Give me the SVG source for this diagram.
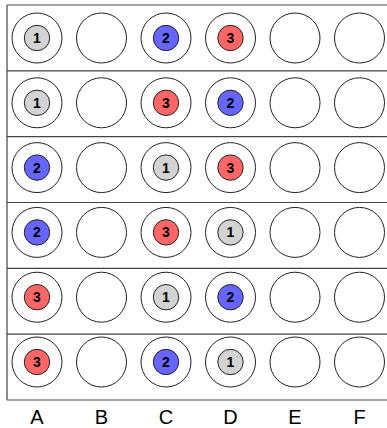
<svg xmlns="http://www.w3.org/2000/svg" width="387" height="428" viewBox="0 0 387 428">
<style>
.grid{fill:none;stroke:#444;stroke-width:1.2}
.well{fill:#fff;stroke:#222;stroke-width:1}
.t1{fill:#d3d3d3;stroke:#222;stroke-width:1}
.t2{fill:#6666ff;stroke:#222;stroke-width:1}
.t3{fill:#ff6666;stroke:#222;stroke-width:1}
.num{font-family:"Liberation Sans",Arial,sans-serif;font-weight:bold;font-size:14px;text-anchor:middle;fill:#000}
.lab{font-family:"Liberation Sans",Arial,sans-serif;font-size:20px;text-anchor:middle;fill:#000}
</style>
<rect width="387" height="428" fill="#fff"/>
<g id="grid">
<path class="grid" d="M7,5 H387 M7,70.8 H387 M7,136.7 H387 M7,202.5 H387 M7,268.3 H387 M7,334.2 H387 M7,400 H387 M7,5 V400"/>
</g>
<defs>
<g id="w"><circle class="well" r="25"/></g>
<g id="p1"><circle class="well" r="25"/><circle class="t1" r="12.7"/><text class="num" y="5">1</text></g>
<g id="p2"><circle class="well" r="25"/><circle class="t2" r="12.7"/><text class="num" y="5">2</text></g>
<g id="p3"><circle class="well" r="25"/><circle class="t3" r="12.7"/><text class="num" y="5">3</text></g>
</defs>
<g id="row1">
<g id="A1"><use href="#p1" x="37" y="38"/></g>
<g id="B1"><use href="#w" x="101.5" y="38"/></g>
<g id="C1"><use href="#p2" x="166" y="38"/></g>
<g id="D1"><use href="#p3" x="230.5" y="38"/></g>
<g id="E1"><use href="#w" x="295" y="38"/></g>
<g id="F1"><use href="#w" x="359.5" y="38"/></g>
</g>
<g id="row2">
<g id="A2"><use href="#p1" x="37" y="102.8"/></g>
<g id="B2"><use href="#w" x="101.5" y="102.8"/></g>
<g id="C2"><use href="#p3" x="166" y="102.8"/></g>
<g id="D2"><use href="#p2" x="230.5" y="102.8"/></g>
<g id="E2"><use href="#w" x="295" y="102.8"/></g>
<g id="F2"><use href="#w" x="359.5" y="102.8"/></g>
</g>
<g id="row3">
<g id="A3"><use href="#p2" x="37" y="167.6"/></g>
<g id="B3"><use href="#w" x="101.5" y="167.6"/></g>
<g id="C3"><use href="#p1" x="166" y="167.6"/></g>
<g id="D3"><use href="#p3" x="230.5" y="167.6"/></g>
<g id="E3"><use href="#w" x="295" y="167.6"/></g>
<g id="F3"><use href="#w" x="359.5" y="167.6"/></g>
</g>
<g id="row4">
<g id="A4"><use href="#p2" x="37" y="232.4"/></g>
<g id="B4"><use href="#w" x="101.5" y="232.4"/></g>
<g id="C4"><use href="#p3" x="166" y="232.4"/></g>
<g id="D4"><use href="#p1" x="230.5" y="232.4"/></g>
<g id="E4"><use href="#w" x="295" y="232.4"/></g>
<g id="F4"><use href="#w" x="359.5" y="232.4"/></g>
</g>
<g id="row5">
<g id="A5"><use href="#p3" x="37" y="297.2"/></g>
<g id="B5"><use href="#w" x="101.5" y="297.2"/></g>
<g id="C5"><use href="#p1" x="166" y="297.2"/></g>
<g id="D5"><use href="#p2" x="230.5" y="297.2"/></g>
<g id="E5"><use href="#w" x="295" y="297.2"/></g>
<g id="F5"><use href="#w" x="359.5" y="297.2"/></g>
</g>
<g id="row6">
<g id="A6"><use href="#p3" x="37" y="362"/></g>
<g id="B6"><use href="#w" x="101.5" y="362"/></g>
<g id="C6"><use href="#p2" x="166" y="362"/></g>
<g id="D6"><use href="#p1" x="230.5" y="362"/></g>
<g id="E6"><use href="#w" x="295" y="362"/></g>
<g id="F6"><use href="#w" x="359.5" y="362"/></g>
</g>
<g id="labels">
<text class="lab" x="37" y="424">A</text>
<text class="lab" x="101.5" y="424">B</text>
<text class="lab" x="166" y="424">C</text>
<text class="lab" x="230.5" y="424">D</text>
<text class="lab" x="295" y="424">E</text>
<text class="lab" x="359.5" y="424">F</text>
</g>
</svg>
